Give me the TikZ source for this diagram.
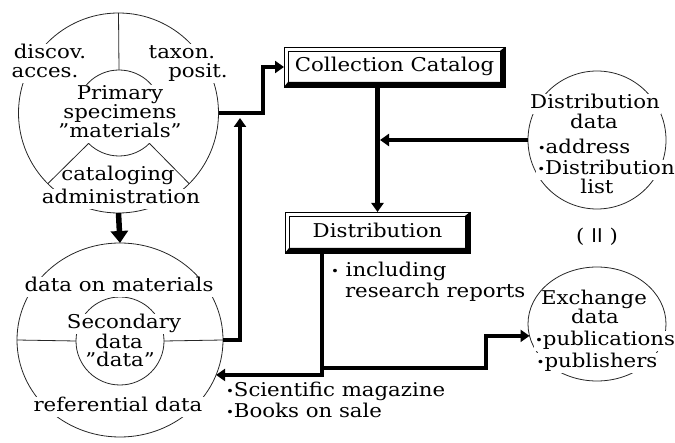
\documentclass[tikz,border=0pt]{standalone}
\usepackage{fontspec}
\setmainfont{DejaVu Serif}[FakeStretch=1.12]
\newfontfamily\sansf{DejaVu Sans}
\usetikzlibrary{arrows.meta,shapes.geometric}
\newcommand\bul{{\fontsize{12}{12}\selectfont\raisebox{1pt}{•}}}
\begin{document}
\begin{tikzpicture}[x=1pt,y=-1pt,
  every node/.style={font=\fontsize{19}{21}\selectfont, inner sep=0pt, outer sep=0pt,
    text height=14pt, text depth=4.5pt},
  ring/.style={draw=black!85, line width=0.8pt},
  mask/.style={fill=white, inner sep=1.2pt},
  conn/.style={draw=black, line width=4.5pt, line join=miter},
  arr/.style={conn, -{Triangle[width=12pt,length=9pt]}},
  bigarr/.style={draw=black, line width=5.5pt, -{Triangle[width=17pt,length=12pt]}},
  boxn/.style={draw=black, line width=0.8pt}
]
\useasboundingbox (0,0) rectangle (675,443);

% ---------- top circle (primary specimens) ----------
\node[circle, ring, minimum size=200pt] (tc) at (118.5,113) {};
\node[circle, ring, minimum size=86pt] (ti) at (119,113) {};
\draw[ring] (tc.north) -- (ti.north);
\draw[ring] (ti.-135) -- (tc.-135);
\draw[ring] (ti.-45) -- (tc.-45);
\node[mask] (t1) at (50,54) {discov.};
\node[mask] (t2) at (45,73) {acces.};
\node[mask] (t3) at (182,54) {taxon.};
\node[mask] (t4) at (198,73) {posit.};
\node[mask] (t5) at (120,95) {Primary};
\node[mask] (t6) at (120,114) {specimens};
\node[mask] (t7) at (120,133) {"materials"};
\node (t8) at (118,176) {cataloging};
\node[mask] (t9) at (121,199) {administration};

% ---------- bottom circle (secondary data) ----------
\node[ellipse, ring, minimum width=206pt, minimum height=194pt] (bc) at (120,340) {};
\node[circle, ring, minimum size=88pt] (bi) at (120,341) {};
\draw[ring] (bc.west) -- (bi.west);
\draw[ring] (bi.east) -- (bc.east);
\node[mask] (b1) at (119,287) {data on materials};
\node[mask] (b2) at (124,324) {Secondary};
\node (b3) at (119,344) {data};
\node (b4) at (120,362) {"data"};
\node[mask] (b5) at (118,407) {referential data};

% ---------- boxes ----------
\node[boxn, minimum width=221pt, minimum height=40pt] (cat) at (394.5,67) {Collection Catalog};
\node[boxn, minimum width=185pt, minimum height=41pt] (dist) at (377.5,232.5) {Distribution};
\foreach \b in {cat,dist}{
  \fill (\b.south west) -- (\b.south east) -- (\b.north east)
    -- ([shift={(-5,4)}]\b.north east) -- ([shift={(-5,-5)}]\b.south east)
    -- ([shift={(4,-5)}]\b.south west) -- cycle;
  \draw[line width=0.7pt] ([shift={(4,4)}]\b.north west) rectangle ([shift={(-5,-5)}]\b.south east);
}

% ---------- distribution data circle ----------
\node[circle, ring, minimum size=138pt] (dd) at (597,140) {};
\node[mask] (d1) at (595,104) {Distribution};
\node (d2) at (594,124) {data};
\node (d3) at (584,149) {\bul address};
\node[mask] (d4) at (606,170) {\bul Distribution};
\node (d5) at (597,189) {list};
\node (roman) at (597,238) {(\hspace{7pt}{\sansf II}\hspace{7pt})};

% ---------- exchange data circle ----------
\node[ellipse, ring, minimum width=138pt, minimum height=114pt] (ex) at (597,324) {};
\node (e1) at (594,300) {Exchange};
\node (e2) at (595,319) {data};
\node[mask] (e3) at (605,341) {\bul publications};
\node[mask] (e4) at (597,363) {\bul publishers};

% ---------- free texts ----------
\node[anchor=west] (n1) at (331,272) {\bul\ including};
\node[anchor=west] (n2) at (345,293) {research reports};
\node[anchor=west] (n3) at (226,392) {\bul Scientific magazine};
\node[anchor=west] (n4) at (226,413) {\bul Books on sale};

% ---------- connectors ----------
\coordinate (k1) at (263,113);
\coordinate (k2) at (240,118);
\coordinate (k3) at (322,375);
\coordinate (k4) at (322,368);
\coordinate (k5) at (486,350);
\draw[bigarr] (tc.south) -- (bc.north);
\draw[arr] (tc.east) -- (tc.east -| k1) |- (cat.west);
\draw[arr] (bc.east) -| (k2);
\draw[arr] (dist.north |- cat.south) -- (dist.north);
\coordinate (j1) at (dd.west -| dist.north);
\draw[arr] (dd.west) -- ([xshift=2.5pt]j1);
\draw[arr] (dist.south -| k3) |- (bc.-20);
\draw[arr] (k4) -| (k5) |- (ex.190);
\end{tikzpicture}
\end{document}
